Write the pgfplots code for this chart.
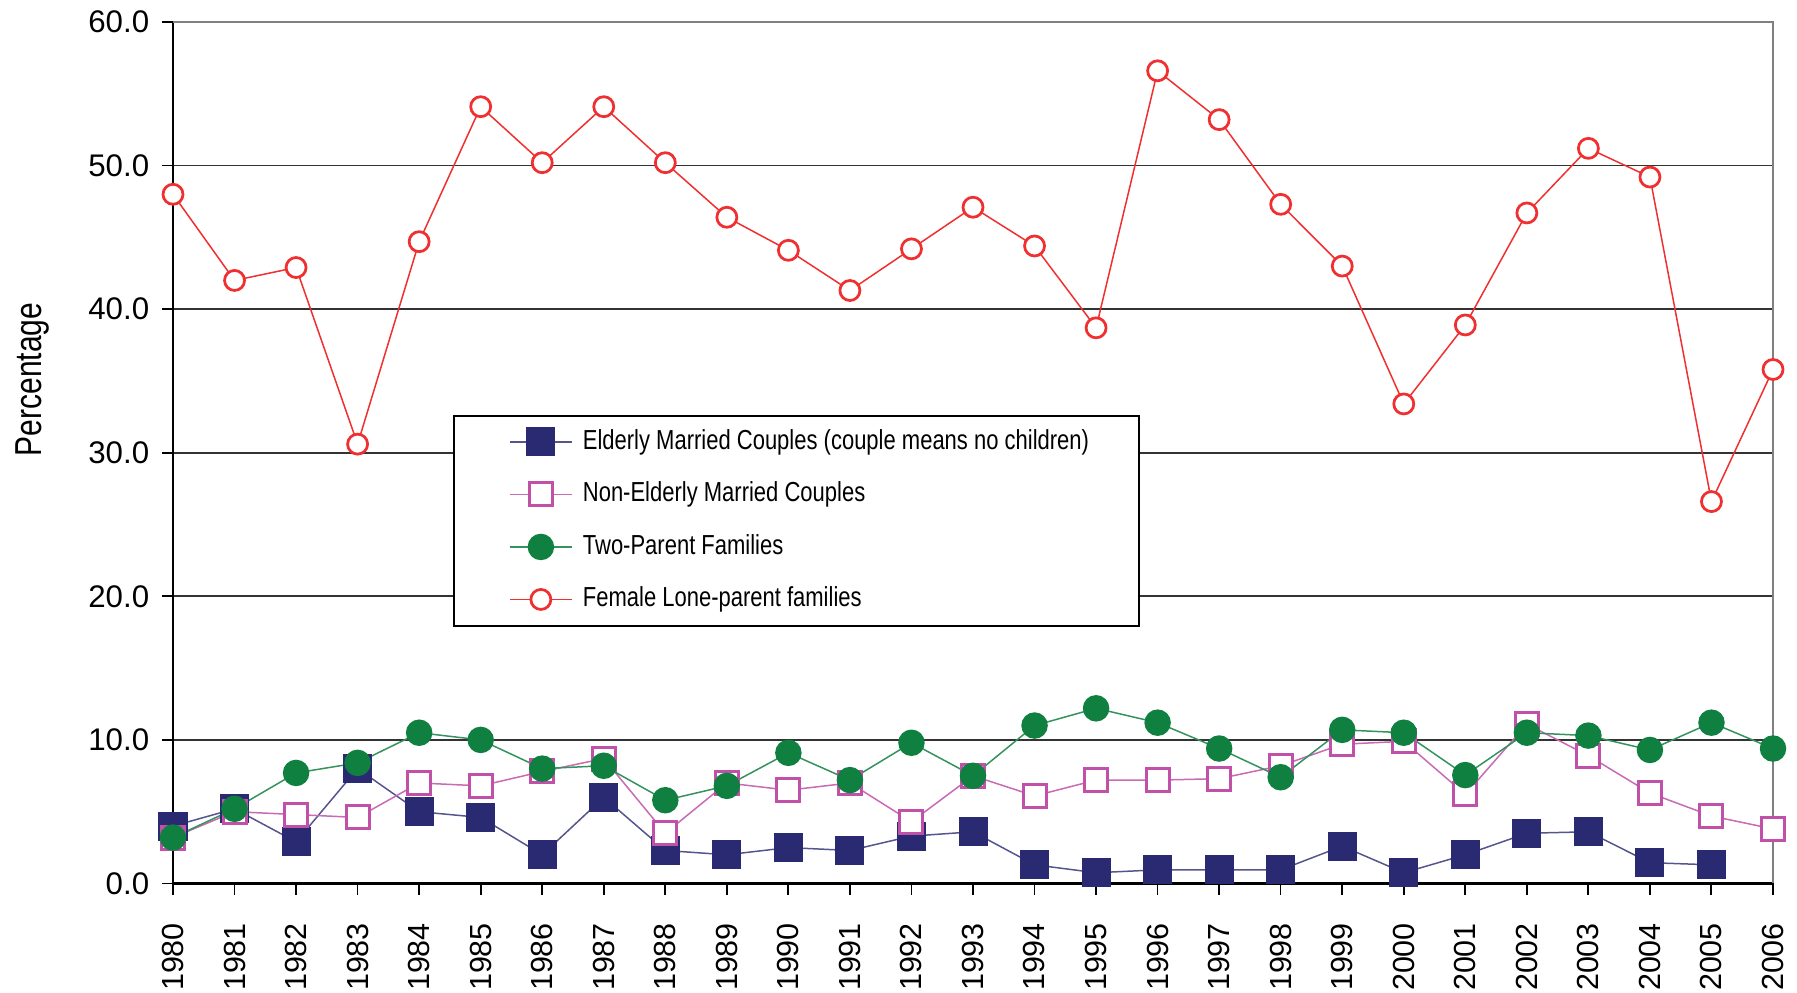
\documentclass[border=0pt]{standalone}
\usepackage{fontspec}
\setmainfont{Liberation Sans}
\newfontfamily\narrowfont[FakeStretch=0.8]{Liberation Sans}
\usepackage{pgfplots}
\usepackage{pgfplotstable}
\pgfplotsset{compat=1.18}
\definecolor{navym}{HTML}{2A2A72}
\definecolor{pinkm}{HTML}{C050A8}
\definecolor{greenm}{HTML}{108040}
\definecolor{redm}{HTML}{F03030}

\pgfplotstableread{
year eld noneld two female
1980 4.0 3.2 3.2 48.0
1981 5.2 5.0 5.2 42.0
1982 2.9 4.8 7.7 42.9
1983 8.0 4.6 8.4 30.6
1984 5.0 7.0 10.5 44.7
1985 4.6 6.8 10.0 54.1
1986 2.0 7.8 8.0 50.2
1987 6.0 8.7 8.2 54.1
1988 2.3 3.5 5.8 50.2
1989 2.0 7.0 6.8 46.4
1990 2.5 6.5 9.1 44.1
1991 2.3 7.0 7.2 41.3
1992 3.3 4.3 9.8 44.2
1993 3.6 7.5 7.5 47.1
1994 1.3 6.1 11.0 44.4
1995 0.75 7.2 12.2 38.7
1996 0.95 7.2 11.2 56.6
1997 0.95 7.3 9.4 53.2
1998 0.95 8.2 7.4 47.3
1999 2.6 9.7 10.7 43.0
2000 0.75 9.9 10.5 33.4
2001 2.0 6.2 7.55 38.9
2002 3.5 11.1 10.5 46.7
2003 3.6 8.9 10.3 51.2
2004 1.45 6.3 9.3 49.2
2005 1.3 4.7 11.2 26.6
2006 nan 3.8 9.4 35.8
}\datatable

\begin{document}
\begin{tikzpicture}
\begin{axis}[name=ax, scale only axis, width=640pt, height=344.6pt,
  xmin=1980, xmax=2006, ymin=0, ymax=60,
  xtick={1980,...,2006}, ytick={0,10,...,60},
  clip=false,
  axis x line*=bottom, axis y line*=left,
  axis line style={black, line width=1pt, -},
  tick align=outside, major tick length=4.5pt,
  tick style={black, line width=0.7pt},
  ymajorgrids, grid style={black!80, line width=0.7pt},
  /pgf/number format/assume math mode=true,
  yticklabel={\pgfmathprintnumber[fixed,fixed zerofill,precision=1]{\tick}},
  yticklabel style={font=\fontsize{12.5}{14}\selectfont, xshift=-1.5pt},
  xticklabel style={font=\fontsize{12.2}{14}\selectfont, rotate=90, anchor=east, xshift=-7.8pt, /pgf/number format/1000 sep={}},
  ylabel={Percentage},
  ylabel style={font=\narrowfont\fontsize{15}{18}\selectfont, at={(axis description cs:-0.088,0.585)}, anchor=center},
  legend cell align=left,
  legend image code/.code={\path (-4pt,0pt); \draw[mark repeat=2,mark phase=2] plot coordinates {(0pt,0pt)(12.5pt,0pt)(25pt,0pt)};},
  legend style={at={(axis description cs:0.175,0.544)}, anchor=north west, draw=black, line width=0.7pt,
    font=\narrowfont\fontsize{11}{13}\selectfont, inner xsep=18pt, inner ysep=5pt,
    row sep=10pt, column sep=2pt,
    nodes={text height=8.5pt, text depth=2.5pt, inner ysep=0pt}},
]
\addplot[color=navym!80, line width=0.6pt, mark=square*, mark size=5.5pt, mark options={fill=navym, draw=navym}] table[x=year, y=eld] {\datatable};
\addlegendentry{Elderly Married Couples (couple means no children)}
\addplot[color=pinkm!85, line width=0.6pt, mark=square*, mark size=4.6pt, mark options={fill=white, draw=pinkm, line width=1.2pt}] table[x=year, y=noneld] {\datatable};
\addlegendentry{Non-Elderly Married Couples}
\addplot[color=greenm!85, line width=0.6pt, mark=*, mark size=5pt, mark options={fill=greenm, draw=greenm}] table[x=year, y=two] {\datatable};
\addlegendentry{Two-Parent Families}
\addplot[color=redm, line width=0.6pt, mark=*, mark size=4pt, mark options={fill=white, draw=redm, line width=1.1pt}] table[x=year, y=female] {\datatable};
\addlegendentry{Female Lone-parent families}
\draw[gray, line width=1pt] (rel axis cs:0,1) -- (rel axis cs:1,1) -- (rel axis cs:1,0);
\end{axis}
\pgfresetboundingbox
\path ([shift={(-69.2pt,-43.8pt)}]ax.south west) rectangle ([shift={(9.6pt,8.8pt)}]ax.north east);
\end{tikzpicture}
\end{document}
